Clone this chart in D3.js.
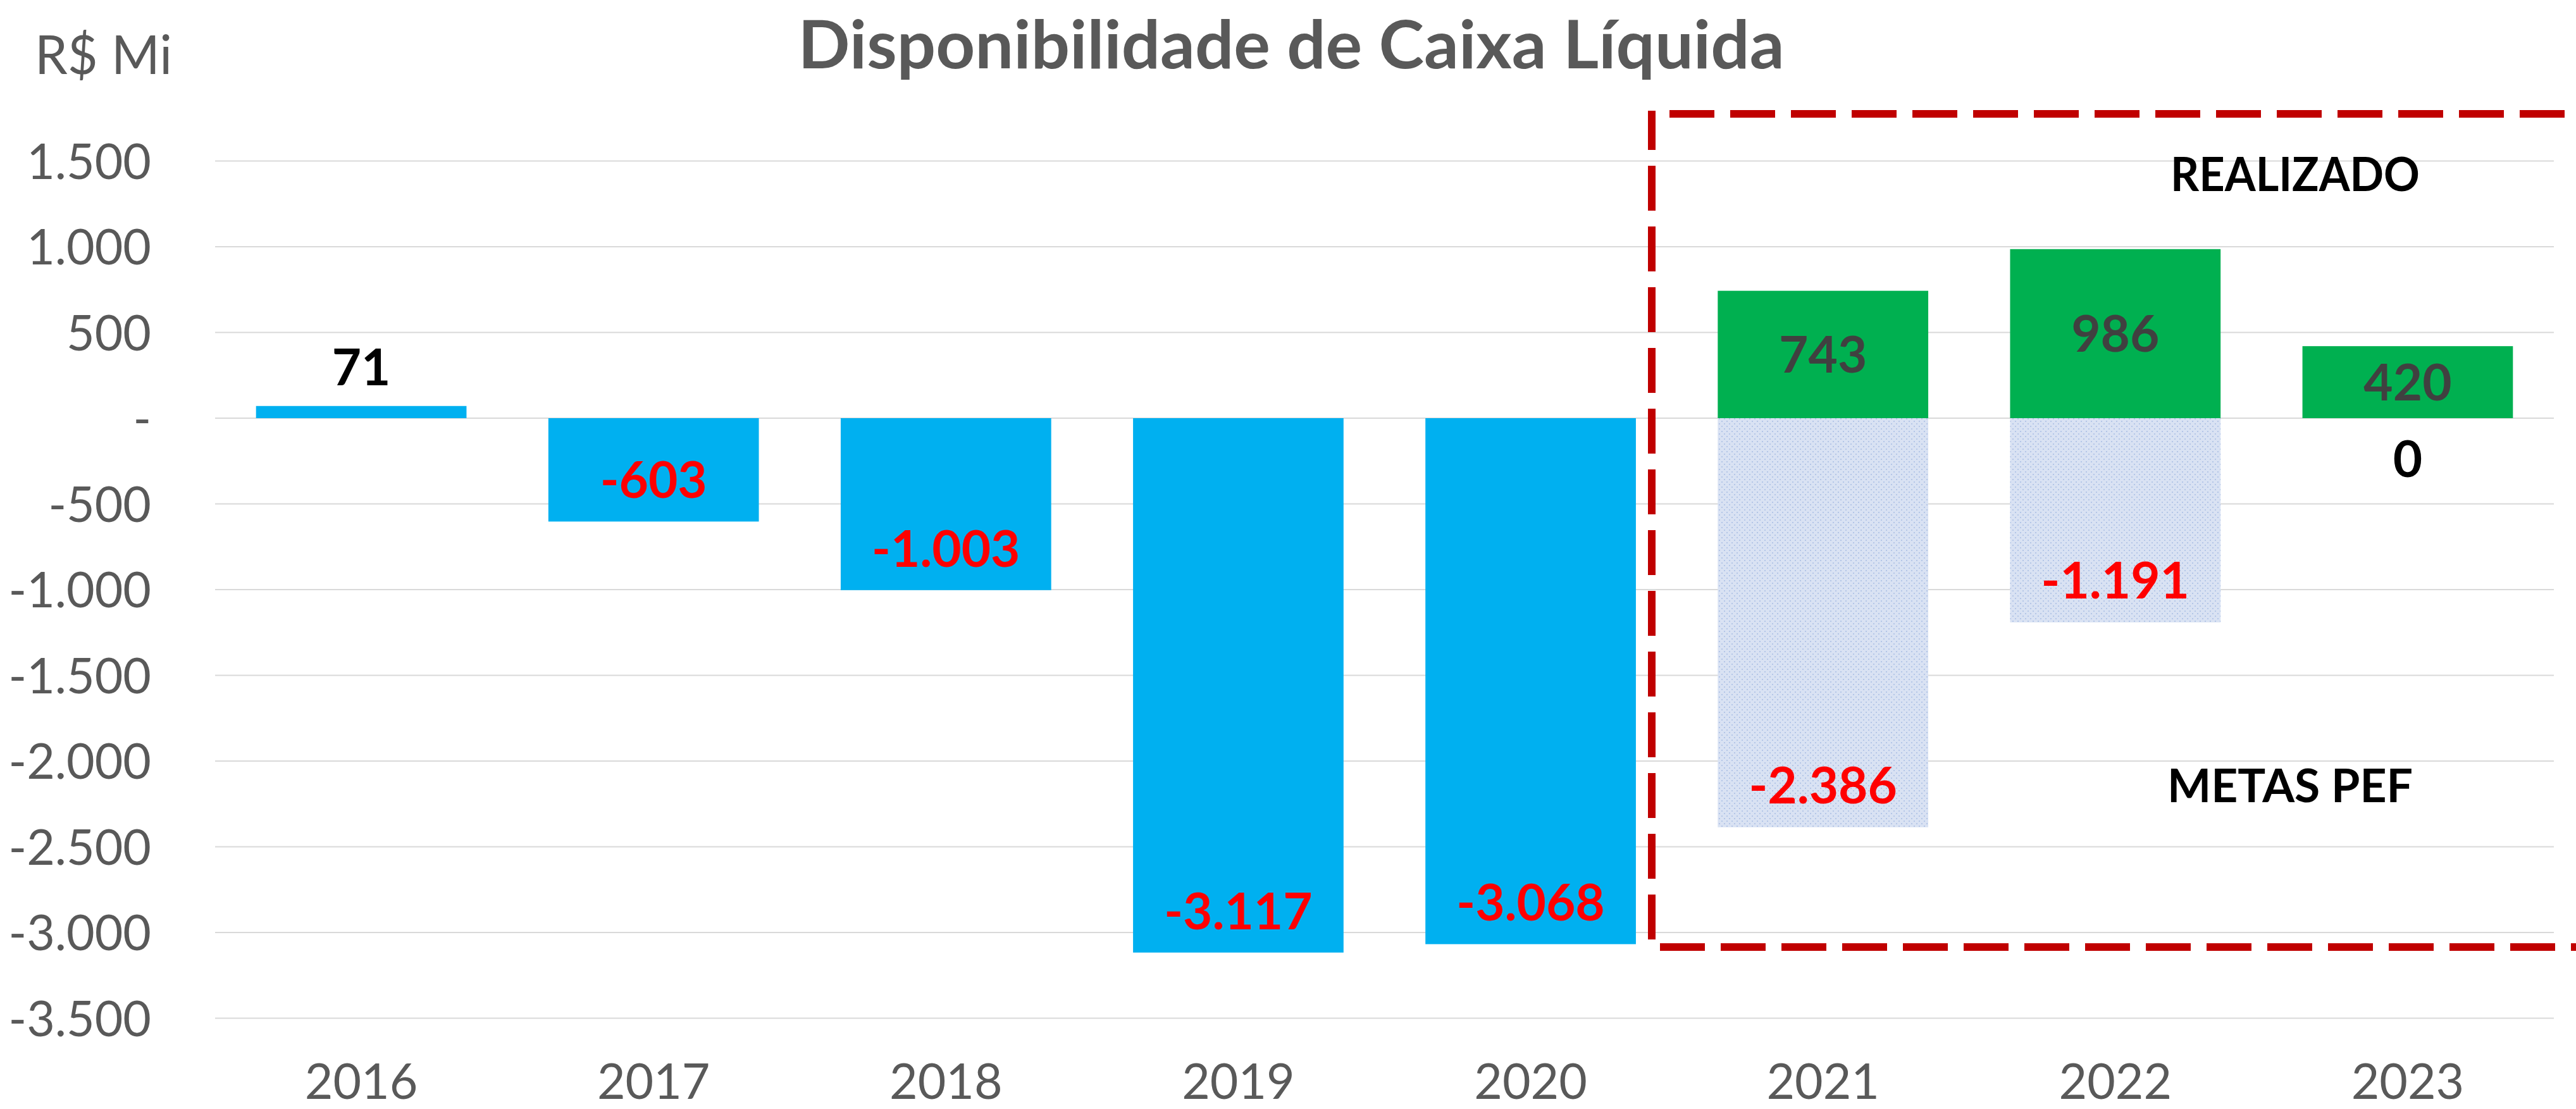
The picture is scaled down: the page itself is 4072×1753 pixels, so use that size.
<!DOCTYPE html>
<html>
<head>
<meta charset="utf-8">
<script src="https://cdn.jsdelivr.net/npm/d3@7"></script>
<style>
  html, body { margin: 0; padding: 0; background: #fff; }
  svg { display: block; }
  text { font-family: Lato, "Open Sans", sans-serif; }
</style>
</head>
<body>
<svg id="chart" width="4072" height="1753"></svg>
<script>
// ---- data ----
const years = ["2016", "2017", "2018", "2019", "2020", "2021", "2022", "2023"];
const realizadoAntes = [71, -603, -1003, -3117, -3068, null, null, null];   // blue
const realizadoPEF   = [null, null, null, null, null, 743, 986, 420];        // green
const metasPEF       = [null, null, null, null, null, -2386, -1191, 0];      // dotted
const yTicks = [1500, 1000, 500, 0, -500, -1000, -1500, -2000, -2500, -3000, -3500];
const titleText = "Disponibilidade de Caixa Líquida";
const unitText = "R$ Mi";
const boxTopText = "REALIZADO";
const boxBottomText = "METAS PEF";

// ---- setup ----
const svg = d3.select("#chart");
const locale = d3.formatLocale({decimal: ",", thousands: ".", grouping: [3], currency: ["R$", ""], minus: "-"});
const fmt = v => v === 0 ? "-" : locale.format(",d")(v);
const fmtLabel = v => locale.format(",d")(v);

const x = d3.scaleBand().domain(years).range([340, 4037]).paddingInner(0.28).paddingOuter(0.14);
const y = d3.scaleLinear().domain([-3500, 1500]).range([1609.5, 254.5]);

const defs = svg.append("defs");
const pat = defs.append("pattern").attr("id", "dots").attr("patternUnits", "userSpaceOnUse")
  .attr("width", 8).attr("height", 8);
pat.append("rect").attr("width", 8).attr("height", 8).attr("fill", "#D9E2F3");
pat.append("rect").attr("x", 1).attr("y", 1).attr("width", 2).attr("height", 2).attr("fill", "#B4C6E7");
pat.append("rect").attr("x", 5).attr("y", 5).attr("width", 2).attr("height", 2).attr("fill", "#B4C6E7");

// gridlines
svg.append("g").selectAll("line").data(yTicks).join("line")
  .attr("x1", 340).attr("x2", 4037)
  .attr("y1", d => y(d)).attr("y2", d => y(d))
  .attr("stroke", "#D9D9D9").attr("stroke-width", 2);

// y axis labels
const yAxis = d3.axisLeft(y).tickValues(yTicks).tickFormat(fmt).tickSize(0).tickPadding(0);
const gy = svg.append("g").attr("transform", "translate(239,0)").call(yAxis);
gy.select(".domain").remove();
gy.selectAll("text").attr("font-size", 77).attr("fill", "#595959")
  .attr("font-family", "Lato, sans-serif").attr("dy", "0.36em");

// x axis labels
const xAxis = d3.axisBottom(x).tickSize(0).tickPadding(0);
const gx = svg.append("g").attr("transform", "translate(0,1737)").call(xAxis);
gx.select(".domain").remove();
gx.selectAll("text").attr("font-size", 77).attr("fill", "#595959")
  .attr("font-family", "Lato, sans-serif").attr("dy", 0).attr("y", 0);

function barData(arr) {
  return years.map((yr, i) => ({year: yr, v: arr[i]})).filter(d => d.v !== null);
}

// metas bars (dotted)
svg.append("g").selectAll("rect").data(barData(metasPEF).filter(d => d.v !== 0)).join("rect")
  .attr("x", d => x(d.year)).attr("width", x.bandwidth())
  .attr("y", d => y(Math.max(0, d.v))).attr("height", d => Math.abs(y(d.v) - y(0)))
  .attr("fill", "url(#dots)");

// blue bars
svg.append("g").selectAll("rect").data(barData(realizadoAntes)).join("rect")
  .attr("x", d => x(d.year)).attr("width", x.bandwidth())
  .attr("y", d => y(Math.max(0, d.v))).attr("height", d => Math.abs(y(d.v) - y(0)))
  .attr("fill", "#00B0F0");

// green bars
svg.append("g").selectAll("rect").data(barData(realizadoPEF)).join("rect")
  .attr("x", d => x(d.year)).attr("width", x.bandwidth())
  .attr("y", d => y(Math.max(0, d.v))).attr("height", d => Math.abs(y(d.v) - y(0)))
  .attr("fill", "#00B050");

const cx = d => x(d.year) + x.bandwidth() / 2;

// labels: blue
svg.append("g").selectAll("text").data(barData(realizadoAntes)).join("text")
  .attr("x", cx)
  .attr("y", d => d.v >= 0 ? y(d.v) - 33 : y(d.v) - 37)
  .attr("text-anchor", "middle").attr("font-weight", 700).attr("font-size", 80)
  .attr("fill", d => d.v >= 0 ? "#000000" : "#FF0000")
  .text(d => fmtLabel(d.v));

// labels: green (centered)
svg.append("g").selectAll("text").data(barData(realizadoPEF)).join("text")
  .attr("x", cx)
  .attr("y", d => (y(d.v) + y(0)) / 2 + 29)
  .attr("text-anchor", "middle").attr("font-weight", 700).attr("font-size", 80)
  .attr("fill", "#404040")
  .text(d => fmtLabel(d.v));

// labels: metas
svg.append("g").selectAll("text").data(barData(metasPEF)).join("text")
  .attr("x", cx)
  .attr("y", d => d.v === 0 ? y(0) + 93 : y(d.v) - 38)
  .attr("text-anchor", "middle").attr("font-weight", 700).attr("font-size", 80)
  .attr("fill", d => d.v === 0 ? "#000000" : "#FF0000")
  .text(d => fmtLabel(d.v));

// dashed box
svg.append("path").attr("d", "M2639,180 H4200")
  .attr("fill", "none").attr("stroke", "#C00000").attr("stroke-width", 12)
  .attr("stroke-dasharray", "71,25");
svg.append("path").attr("d", "M2611,175 V1497 H4200")
  .attr("fill", "none").attr("stroke", "#C00000").attr("stroke-width", 12)
  .attr("stroke-dasharray", "71,25").attr("stroke-dashoffset", 9);

// box annotations
svg.append("text").attr("x", 3628).attr("y", 302).attr("text-anchor", "middle")
  .attr("font-weight", 700).attr("font-size", 75).attr("fill", "#000")
  .attr("textLength", 394).attr("lengthAdjust", "spacingAndGlyphs").text(boxTopText);
svg.append("text").attr("x", 3620).attr("y", 1268).attr("text-anchor", "middle")
  .attr("font-weight", 700).attr("font-size", 73).attr("fill", "#000")
  .attr("textLength", 388).attr("lengthAdjust", "spacingAndGlyphs").text(boxBottomText);

// title
svg.append("text").attr("x", 2041).attr("y", 108).attr("text-anchor", "middle")
  .attr("font-weight", 700).attr("font-size", 105).attr("fill", "#595959")
  .attr("textLength", 1559).attr("lengthAdjust", "spacingAndGlyphs").text(titleText);

// unit label
svg.append("text").attr("x", 55).attr("y", 117)
  .attr("font-size", 85).attr("fill", "#595959")
  .attr("textLength", 217).attr("lengthAdjust", "spacingAndGlyphs").text(unitText);
</script>
</body>
</html>
